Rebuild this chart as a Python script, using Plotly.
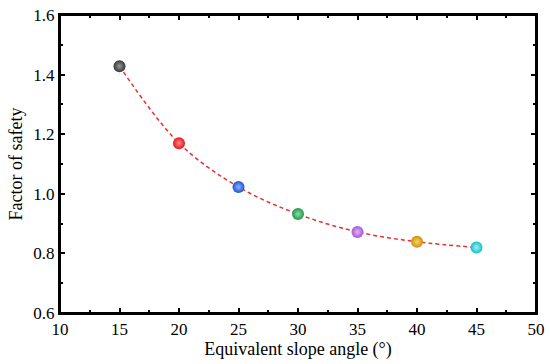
import plotly.graph_objects as go

angles = [15, 20, 25, 30, 35, 40, 45]
fos = [1.428, 1.170, 1.023, 0.932, 0.872, 0.839, 0.820]
colors = ["#353535", "#e8141c", "#1f55d0", "#1f9a4e", "#a855d6", "#cf9000", "#12c0cc"]
highlights = ["#9a9a9a", "#ff8a8e", "#8fb0ff", "#8fd8a8", "#e2b4f4", "#f5d27a", "#9ff0f4"]

fig = go.Figure()
fig.add_trace(go.Scatter(
    x=angles, y=fos, mode="lines",
    line=dict(color="#e53030", width=1.5, dash="4px,3px", shape="spline", smoothing=1.0),
    hoverinfo="skip", showlegend=False))
fig.add_trace(go.Scatter(
    x=angles, y=fos, mode="markers",
    marker=dict(size=12, color=colors, gradient=dict(type="radial", color=highlights),
                line=dict(width=0)),
    showlegend=False))

font = "Liberation Serif, Times New Roman, serif"
axis_common = dict(
    showline=True, linecolor="black", linewidth=2, mirror="allticks",
    ticks="inside", ticklen=5, tickwidth=2, tickcolor="black",
    showgrid=False, zeroline=False,
    tickfont=dict(family=font, size=17, color="black"),
)
fig.update_xaxes(range=[10, 50], dtick=5, tick0=10,
                 minor=dict(ticks="inside", ticklen=3, tickwidth=1.5, dtick=2.5, tickcolor="black", showgrid=False),
                 title=dict(text="Equivalent slope angle (°)", font=dict(family=font, size=18, color="black"), standoff=2),
                 **axis_common)
fig.update_yaxes(range=[0.6, 1.6], dtick=0.2, tick0=0.6, tickformat=".1f",
                 minor=dict(ticks="inside", ticklen=3, tickwidth=1.5, dtick=0.1, tickcolor="black", showgrid=False),
                 title=dict(text="Factor of safety", font=dict(family=font, size=18, color="black"), standoff=6),
                 **axis_common)
fig.add_shape(type="rect", xref="paper", yref="paper", x0=0, y0=0, x1=1, y1=1,
              line=dict(color="black", width=2), fillcolor="rgba(0,0,0,0)", layer="above")
fig.update_layout(
    width=550, height=364,
    margin=dict(l=60, r=14, t=15, b=51, autoexpand=False),
    plot_bgcolor="white", paper_bgcolor="white",
)
fig.write_html("out.html", config={"displayModeBar": False},
               post_script="document.body.style.margin='0';")
